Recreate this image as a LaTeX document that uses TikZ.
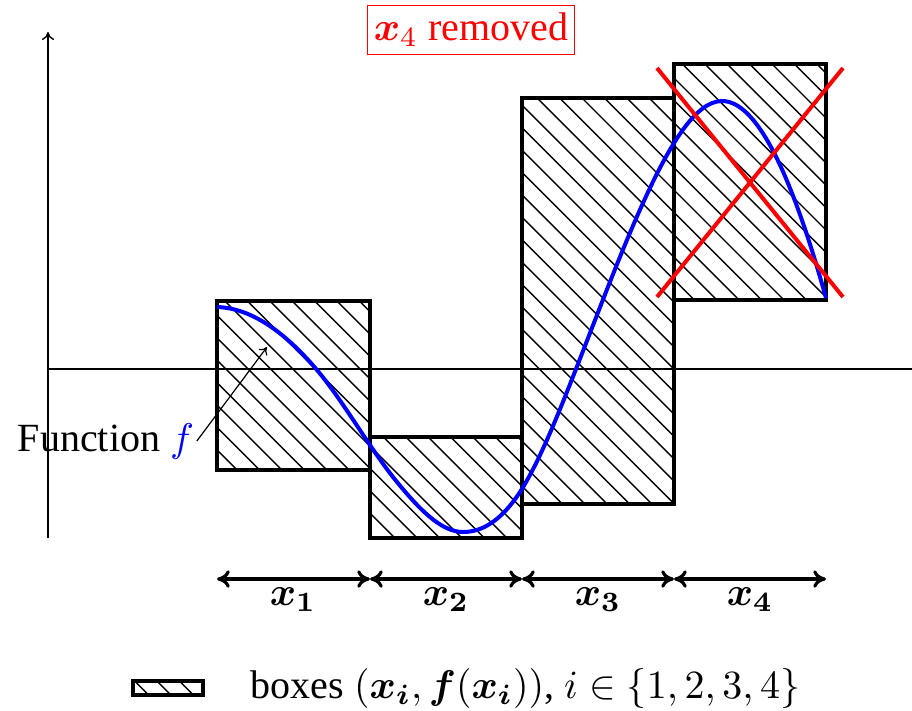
\documentclass[tikz,border=0pt]{standalone}
\usepackage{amsmath}
\usepackage[no-math]{fontspec}
\setmainfont{Liberation Serif}
\usetikzlibrary{arrows.meta}
\begin{document}
\begin{tikzpicture}[x=0.25pt,y=-0.25pt,
  boxline/.style={line width=1pt},
  hatchline/.style={line width=0.35pt},
  axisline/.style={line width=0.35pt},
  dimarrow/.style={line width=0.8pt,
    {Computer Modern Rightarrow[length=3.2pt,width=4.4pt]}-{Computer Modern Rightarrow[length=3.2pt,width=4.4pt]}},
  crossline/.style={red, line width=1pt},
  fcurve/.style={blue, line width=1pt},
  dimlabel/.style={inner sep=0pt}]
\useasboundingbox (0,0) rectangle (912,710);

% axes
\coordinate (yb) at (48,538);
\coordinate (yt) at (48,32);
\coordinate (xl) at (48,369);
\coordinate (xr) at (912,369);
\draw[axisline, -{Computer Modern Rightarrow[length=2pt,width=3pt]}] (yb) -- (yt);
\draw[axisline] (xl) -- (xr);

% hatching
\begin{scope}
  \clip (217,301) rectangle (370,470)
        (370,437) rectangle (522,538)
        (522,98) rectangle (674,504)
        (674,64) rectangle (826,300)
        (133,681) rectangle (203,695);
  \foreach \k in {-28,...,34}
    \draw[hatchline] ({36+22.4*\k},0) -- ++(720,720);
\end{scope}

% boxes
\draw[boxline] (217,301) rectangle (370,470);
\draw[boxline] (370,437) rectangle (522,538);
\draw[boxline] (522,98) rectangle (674,504);
\draw[boxline] (674,64) rectangle (826,300);
\draw[boxline] (133,681) rectangle (203,695);

% function curve
\draw[fcurve] (217,307)
  .. controls (250.3,308) and (283.7,330.7) .. (317,370)
  .. controls (343.7,401.5) and (370.3,449.5) .. (397,482)
  .. controls (419,508.8) and (441,532) .. (463,532)
  .. controls (482,532) and (501,521) .. (520,492)
  .. controls (538.7,463) and (557.3,416.7) .. (576,369)
  .. controls (598.3,312.1) and (620.7,252.1) .. (643,203)
  .. controls (669.3,145.1) and (695.7,101) .. (722,101)
  .. controls (756.7,101) and (791.3,173.2) .. (826,298);

% red cross
\coordinate (c1) at (657,68);
\coordinate (c2) at (843,297);
\coordinate (c3) at (843,68);
\coordinate (c4) at (657,297);
\draw[crossline] (c1) -- (c2);
\draw[crossline] (c3) -- (c4);

% title
\node[draw=red, text=red, line width=0.3pt, inner xsep=1.6pt, inner ysep=2pt] (title) at (471,30) {$\boldsymbol{x}_4$ removed};

% function label
\node[inner sep=0.5pt] (func) at (106,441) {Function {\color{blue}$f$}};
\coordinate (ftip) at (267,347);
\draw[line width=0.3pt, -{Computer Modern Rightarrow[length=1.8pt,width=2.6pt]}] (func.east) -- (ftip);

% dimension arrows
\coordinate (d0) at (217,579);
\coordinate (d1) at (370,579);
\coordinate (d2) at (522,579);
\coordinate (d3) at (674,579);
\coordinate (d4) at (826,579);
\draw[dimarrow] (d0) -- (d1);
\draw[dimarrow] (d1) -- (d2);
\draw[dimarrow] (d2) -- (d3);
\draw[dimarrow] (d3) -- (d4);
\node[dimlabel] (l1) at (293,600) {$\boldsymbol{x_1}$};
\node[dimlabel] (l2) at (446,600) {$\boldsymbol{x_2}$};
\node[dimlabel] (l3) at (598,600) {$\boldsymbol{x_3}$};
\node[dimlabel] (l4) at (750,600) {$\boldsymbol{x_4}$};

% legend
\node[anchor=west, inner sep=0pt] (legend) at (250,688) {boxes $(\boldsymbol{x_i}, \boldsymbol{f}(\boldsymbol{x_i}))$, $i \in \{1, 2, 3, 4\}$};
\end{tikzpicture}
\end{document}
